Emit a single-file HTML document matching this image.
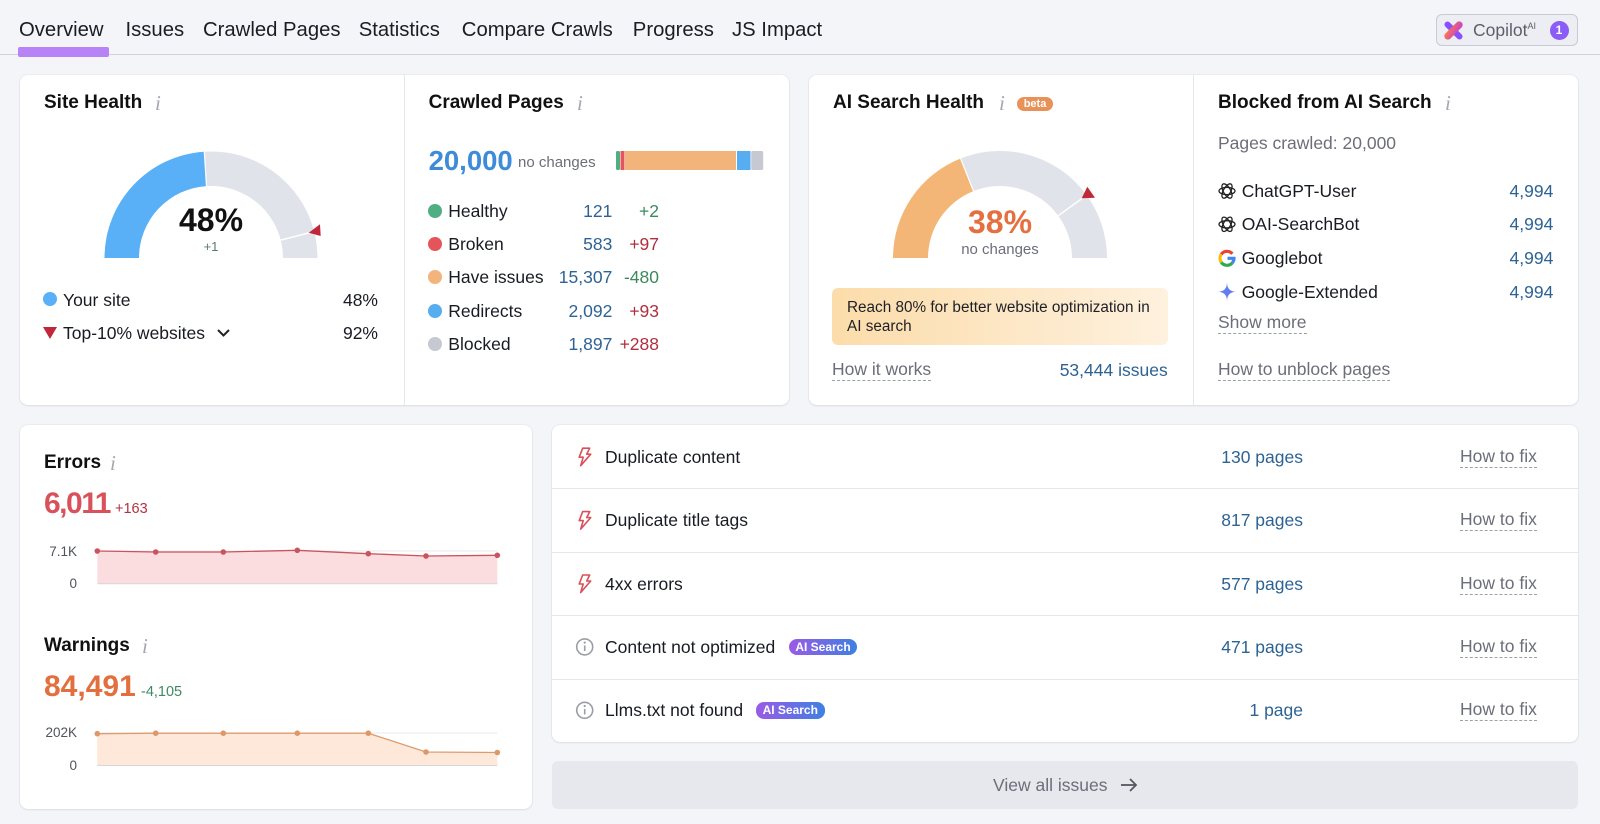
<!DOCTYPE html>
<html><head><meta charset="utf-8">
<style>
*{margin:0;padding:0;box-sizing:border-box}
html,body{width:1600px;height:824px;overflow:hidden;background:#f4f5f9;font-family:"Liberation Sans",Arial,sans-serif;color:#191b23}
body{position:relative}
.a{position:absolute;white-space:nowrap}
.card{position:absolute;background:#fff;border-radius:8px;box-shadow:0 1px 2px rgba(30,35,50,.08),0 0 0 1px rgba(30,35,50,.035)}
.tab{position:absolute;top:18px;line-height:24px;font-size:20.3px;color:#1b1d24;white-space:nowrap}
.h{position:absolute;font-size:19px;font-weight:bold;line-height:24px;color:#111;white-space:nowrap}
.ii{position:absolute;font-family:"Liberation Serif",serif;font-style:italic;font-size:21px;color:#a4a7af;line-height:24px}
.b{position:absolute;font-size:17.5px;line-height:22px;white-space:nowrap}
.g{color:#6c6e79}
.blue{color:#2d6394}
.red{color:#b22e3d}
.grn{color:#3b8a5e}
.dash{border-bottom:1.3px dashed #9ea1aa;line-height:21px}
.r{text-align:right}
.dot{position:absolute;width:14px;height:14px;border-radius:50%}
.ax{position:absolute;font-size:13.5px;line-height:18px;color:#50535c;text-align:right;white-space:nowrap}
.badge{position:absolute;height:16.5px;border-radius:8px;background:linear-gradient(90deg,#9a5ae6,#3f80e2);color:#fff;font-size:12px;font-weight:bold;line-height:16.5px;text-align:center}
</style></head><body>

<!-- top nav -->
<div class="a" style="left:0;top:54px;width:1600px;height:1px;background:#cfd2d9"></div>
<div class="a" style="left:18px;top:47px;width:91px;height:10px;background:#b783f7;border-radius:2px"></div>
<div class="tab" style="left:19px">Overview</div>
<div class="tab" style="left:125.5px">Issues</div>
<div class="tab" style="left:203px">Crawled Pages</div>
<div class="tab" style="left:358.7px">Statistics</div>
<div class="tab" style="left:461.8px">Compare Crawls</div>
<div class="tab" style="left:632.8px">Progress</div>
<div class="tab" style="left:732px">JS Impact</div>

<div class="a" style="left:1436px;top:14px;width:142px;height:32px;border:1px solid #c8cbd3;border-radius:6px;background:#eceef3"></div>
<svg class="a" style="left:1444px;top:21px" width="19" height="19" viewBox="0 0 19 19">
<defs><linearGradient id="cg" x1="0" y1="0" x2="1" y2="1"><stop offset="0" stop-color="#ff7a45"/><stop offset="1" stop-color="#c13fd0"/></linearGradient></defs>
<rect x="-2" y="6.5" width="23" height="6" rx="3" fill="#8a4fff" transform="rotate(45 9.5 9.5)"/>
<rect x="-2" y="6" width="23" height="7" rx="3.5" fill="url(#cg)" transform="rotate(-45 9.5 9.5)"/>
</svg>
<div class="b" style="left:1473px;top:19px;color:#5c5f6a">Copilot<span style="font-size:9px;position:relative;top:-7px">AI</span></div>
<div class="a" style="left:1549.5px;top:20.5px;width:19px;height:19px;border-radius:50%;background:#8b5cf6;color:#fff;font-size:12px;font-weight:bold;line-height:19px;text-align:center">1</div>

<!-- cards -->
<div class="card" style="left:20px;top:75px;width:769px;height:330px"></div>
<div class="a" style="left:404px;top:75px;width:1px;height:330px;background:#e6e7eb"></div>
<div class="card" style="left:809px;top:75px;width:769px;height:330px"></div>
<div class="a" style="left:1193px;top:75px;width:1px;height:330px;background:#e6e7eb"></div>
<div class="card" style="left:20px;top:425px;width:512px;height:384px"></div>
<div class="card" style="left:552px;top:425px;width:1026px;height:317px"></div>
<div class="a" style="left:552px;top:488.4px;width:1026px;height:1px;background:#e6e7eb"></div>
<div class="a" style="left:552px;top:551.8px;width:1026px;height:1px;background:#e6e7eb"></div>
<div class="a" style="left:552px;top:615.2px;width:1026px;height:1px;background:#e6e7eb"></div>
<div class="a" style="left:552px;top:678.6px;width:1026px;height:1px;background:#e6e7eb"></div>
<div class="a" style="left:552px;top:761px;width:1026px;height:48px;border-radius:6px;background:#e6e8ee"></div>

<!-- graphics -->
<svg class="a" style="left:0;top:0" width="1600" height="824" viewBox="0 0 1600 824">
<defs>
<linearGradient id="gem" x1="0" y1="0" x2="1" y2="1"><stop offset="0" stop-color="#4d8ff0"/><stop offset="1" stop-color="#7a6cf0"/></linearGradient>
</defs>
<!-- site health gauge -->
<path d="M104.5 258 A106.5 106.5 0 0 1 204.3 151.7 L206.5 186.1 A72 72 0 0 0 139 258 Z" fill="#5ab0f6"/>
<path d="M204.3 151.7 A106.5 106.5 0 0 1 317.5 258 L283 258 A72 72 0 0 0 206.5 186.1 Z" fill="#e1e3ea"/>
<line x1="204.3" y1="151.7" x2="206.5" y2="186.1" stroke="#fff" stroke-width="1.2"/>
<line x1="314.2" y1="231.5" x2="280.7" y2="240.1" stroke="#fff" stroke-width="1.5"/>
<polygon points="308.7,232.7 320,224.3 320.7,236" fill="#c0283a"/>
<!-- ai gauge -->
<path d="M893 258 A107 107 0 0 1 960.6 158.5 L973.5 191.1 A72 72 0 0 0 928 258 Z" fill="#f3b676"/>
<path d="M960.6 158.5 A107 107 0 0 1 1107 258 L1072 258 A72 72 0 0 0 973.5 191.1 Z" fill="#e1e3ea"/>
<line x1="960.6" y1="158.5" x2="973.5" y2="191.1" stroke="#fff" stroke-width="1.2"/>
<line x1="1086.6" y1="195.1" x2="1058.2" y2="215.7" stroke="#fff" stroke-width="1.5"/>
<polygon points="1081.7,198.3 1087.3,186.7 1095,197.7" fill="#c0283a"/>
<!-- crawled bar -->
<rect x="616" y="151" width="4" height="19" rx="1.5" fill="#4fae82"/>
<rect x="620.5" y="151" width="4" height="19" fill="#e5545a"/>
<rect x="625" y="151" width="111" height="19" fill="#f2b47a"/>
<rect x="737" y="151" width="13.5" height="19" fill="#56aef0"/>
<rect x="751.2" y="151" width="12" height="19" rx="1.5" fill="#c6c9d1"/>
<!-- errors chart -->
<line x1="97.3" y1="551" x2="497.3" y2="551" stroke="#e9eaee"/>
<polygon points="97.3,551 155.7,552 223.3,552 297.3,550.3 368.3,553.7 426,556 497.3,555.3 497.3,583.7 97.3,583.7" fill="#fbdde0"/>
<line x1="97.3" y1="583.7" x2="497.3" y2="583.7" stroke="#d5d7dc"/>
<polyline points="97.3,551 155.7,552 223.3,552 297.3,550.3 368.3,553.7 426,556 497.3,555.3" fill="none" stroke="#c9545d" stroke-width="1.3"/>
<g fill="#c9545d"><circle cx="97.3" cy="551" r="2.8"/><circle cx="155.7" cy="552" r="2.8"/><circle cx="223.3" cy="552" r="2.8"/><circle cx="297.3" cy="550.3" r="2.8"/><circle cx="368.3" cy="553.7" r="2.8"/><circle cx="426" cy="556" r="2.8"/><circle cx="497.3" cy="555.3" r="2.8"/></g>
<!-- warnings chart -->
<line x1="97.3" y1="733" x2="497.3" y2="733" stroke="#e9eaee"/>
<polygon points="97.3,733.7 155.7,733.2 223.3,733.2 297.3,733.2 368.3,733.2 426,752 497.3,752.5 497.3,765.5 97.3,765.5" fill="#fde8da"/>
<line x1="97.3" y1="765.5" x2="497.3" y2="765.5" stroke="#d5d7dc"/>
<polyline points="97.3,733.7 155.7,733.2 223.3,733.2 297.3,733.2 368.3,733.2 426,752 497.3,752.5" fill="none" stroke="#dd9c6e" stroke-width="1.3"/>
<g fill="#dc9866"><circle cx="97.3" cy="733.7" r="2.8"/><circle cx="155.7" cy="733.2" r="2.8"/><circle cx="223.3" cy="733.2" r="2.8"/><circle cx="297.3" cy="733.2" r="2.8"/><circle cx="368.3" cy="733.2" r="2.8"/><circle cx="426" cy="752" r="2.8"/><circle cx="497.3" cy="752.5" r="2.8"/></g>
<!-- legend marks -->
<polygon points="43,327 57,327 50,339" fill="#c0283a"/>
<polyline points="218,330 223.5,335.5 229,330" fill="none" stroke="#222" stroke-width="2"/>
<!-- blocked icons -->
<g transform="translate(1227,191)" fill="none" stroke="#222" stroke-width="1.3"><ellipse rx="8" ry="3.6"/><ellipse rx="8" ry="3.6" transform="rotate(60)"/><ellipse rx="8" ry="3.6" transform="rotate(120)"/></g>
<g transform="translate(1227,224.3)" fill="none" stroke="#222" stroke-width="1.3"><ellipse rx="8" ry="3.6"/><ellipse rx="8" ry="3.6" transform="rotate(60)"/><ellipse rx="8" ry="3.6" transform="rotate(120)"/></g>
<g transform="translate(1227,258.3)" fill="none" stroke-width="3.2">
<path d="M5.36 -4.5 A7 7 0 0 0 -5.73 -4.01" stroke="#ea4335"/>
<path d="M-5.73 -4.01 A7 7 0 0 0 -5.73 4.01" stroke="#fbbc05"/>
<path d="M-5.73 4.01 A7 7 0 0 0 5.36 4.5" stroke="#34a853"/>
<path d="M5.36 4.5 A7 7 0 0 0 7 0 L0.5 0" stroke="#4285f4"/>
</g>
<path transform="translate(1227,291.7)" d="M0 -9.5 Q0 0 9.5 0 Q0 0 0 9.5 Q0 0 -9.5 0 Q0 0 0 -9.5 Z" fill="url(#gem)"/>
<!-- issue icons -->
<g fill="none" stroke="#d9505a" stroke-width="1.6" stroke-linejoin="round">
<path transform="translate(584.7,456.7)" d="M-2 -8.5 L5 -8.5 L2 -2.5 L6 -2.5 L-4 9 L-1.5 0.5 L-5.5 0.5 Z"/>
<path transform="translate(584.7,520.1)" d="M-2 -8.5 L5 -8.5 L2 -2.5 L6 -2.5 L-4 9 L-1.5 0.5 L-5.5 0.5 Z"/>
<path transform="translate(584.7,583.5)" d="M-2 -8.5 L5 -8.5 L2 -2.5 L6 -2.5 L-4 9 L-1.5 0.5 L-5.5 0.5 Z"/>
</g>
<g fill="none" stroke="#9b9ea6" stroke-width="1.6">
<circle cx="584.7" cy="646.9" r="8"/><line x1="584.7" y1="645.5" x2="584.7" y2="651"/>
<circle cx="584.7" cy="710.3" r="8"/><line x1="584.7" y1="708.9" x2="584.7" y2="714.4"/>
</g>
<g fill="#9b9ea6"><circle cx="584.7" cy="642.6" r="1.1"/><circle cx="584.7" cy="706" r="1.1"/></g>
<!-- view all arrow -->
<g fill="none" stroke="#555861" stroke-width="1.8"><line x1="1121" y1="785" x2="1136" y2="785"/><polyline points="1130,779 1136,785 1130,791"/></g>
</svg>

<!-- Site Health -->
<div class="h" style="left:44px;top:91px">Site Health</div>
<div class="ii" style="left:155px;top:91px">i</div>
<div class="a" style="left:111px;top:202px;width:200px;text-align:center;font-size:32px;font-weight:bold;line-height:36px;color:#111">48%</div>
<div class="a" style="left:161px;top:239px;width:100px;text-align:center;font-size:13px;line-height:16px;color:#5f7a6a">+1</div>
<div class="dot" style="left:43px;top:292.3px;background:#5ab0f6"></div>
<div class="b" style="left:63px;top:288.5px">Your site</div>
<div class="b r" style="right:1222px;top:288.5px">48%</div>
<div class="b" style="left:63px;top:322px">Top-10% websites</div>
<div class="b r" style="right:1222px;top:322px">92%</div>

<!-- Crawled Pages -->
<div class="h" style="left:428.6px;top:91px">Crawled Pages</div>
<div class="ii" style="left:577px;top:91px">i</div>
<div class="a" style="left:428.6px;top:144.5px;font-size:27.5px;font-weight:bold;line-height:32px;color:#3d8bd9">20,000</div>
<div class="a g" style="left:518px;top:153px;font-size:15px;line-height:20px">no changes</div>
<div class="dot" style="left:428.3px;top:203.7px;background:#4fae82"></div>
<div class="dot" style="left:428.3px;top:237px;background:#e5545a"></div>
<div class="dot" style="left:428.3px;top:270.3px;background:#f2b47a"></div>
<div class="dot" style="left:428.3px;top:303.7px;background:#56aef0"></div>
<div class="dot" style="left:428.3px;top:337px;background:#c6c9d1"></div>
<div class="b" style="left:448.3px;top:199.7px">Healthy</div>
<div class="b" style="left:448.3px;top:233px">Broken</div>
<div class="b" style="left:448.3px;top:266.3px">Have issues</div>
<div class="b" style="left:448.3px;top:299.7px">Redirects</div>
<div class="b" style="left:448.3px;top:333px">Blocked</div>
<div class="b blue r" style="right:987.7px;top:199.7px">121</div>
<div class="b blue r" style="right:987.7px;top:233px">583</div>
<div class="b blue r" style="right:987.7px;top:266.3px">15,307</div>
<div class="b blue r" style="right:987.7px;top:299.7px">2,092</div>
<div class="b blue r" style="right:987.7px;top:333px">1,897</div>
<div class="b grn r" style="right:941px;top:199.7px">+2</div>
<div class="b red r" style="right:941px;top:233px">+97</div>
<div class="b grn r" style="right:941px;top:266.3px">-480</div>
<div class="b red r" style="right:941px;top:299.7px">+93</div>
<div class="b red r" style="right:941px;top:333px">+288</div>

<!-- AI Search Health -->
<div class="h" style="left:833px;top:91px">AI Search Health</div>
<div class="ii" style="left:999px;top:91px">i</div>
<div class="a" style="left:1017px;top:97px;width:36px;height:14px;border-radius:7px;background:#e8925a;color:#fff;font-size:11px;font-weight:bold;line-height:14px;text-align:center">beta</div>
<div class="a" style="left:900px;top:203.5px;width:200px;text-align:center;font-size:32px;font-weight:bold;line-height:36px;color:#e4703f">38%</div>
<div class="a g" style="left:900px;top:239.5px;width:200px;text-align:center;font-size:15px;line-height:20px">no changes</div>
<div class="a" style="left:832px;top:288px;width:336px;height:57px;border-radius:6px;background:linear-gradient(90deg,#fcdcaa,#fef1de)"></div>
<div class="a" style="left:847px;top:297.5px;font-size:15.3px;line-height:19px;color:#1d1f26;white-space:normal;width:315px">Reach 80% for better website optimization in AI search</div>
<div class="b g dash" style="left:832px;top:359px">How it works</div>
<div class="b blue r" style="right:432.3px;top:359px">53,444 issues</div>

<!-- Blocked from AI Search -->
<div class="h" style="left:1218px;top:91px">Blocked from AI Search</div>
<div class="ii" style="left:1445px;top:91px">i</div>
<div class="b g" style="left:1218px;top:132.3px">Pages crawled: 20,000</div>
<div class="b" style="left:1241.7px;top:180px">ChatGPT-User</div>
<div class="b" style="left:1241.7px;top:213.3px">OAI-SearchBot</div>
<div class="b" style="left:1241.7px;top:247.3px">Googlebot</div>
<div class="b" style="left:1241.7px;top:280.7px">Google-Extended</div>
<div class="b blue r" style="right:46.7px;top:180px">4,994</div>
<div class="b blue r" style="right:46.7px;top:213.3px">4,994</div>
<div class="b blue r" style="right:46.7px;top:247.3px">4,994</div>
<div class="b blue r" style="right:46.7px;top:280.7px">4,994</div>
<div class="b g dash" style="left:1218px;top:311.7px">Show more</div>
<div class="b g dash" style="left:1218px;top:359px">How to unblock pages</div>

<!-- Errors / Warnings -->
<div class="h" style="left:44px;top:451.3px">Errors</div>
<div class="ii" style="left:110px;top:451.3px">i</div>
<div class="a" style="left:44px;top:487px;font-size:30px;font-weight:bold;line-height:34px;letter-spacing:-1.5px;color:#d9525b">6,011</div>
<div class="a" style="left:115px;top:500px;font-size:14.5px;line-height:18px;color:#b0323f">+163</div>
<div class="ax" style="right:1523px;top:543px">7.1K</div>
<div class="ax" style="right:1523px;top:574.5px">0</div>
<div class="h" style="left:44px;top:634px">Warnings</div>
<div class="ii" style="left:142px;top:634px">i</div>
<div class="a" style="left:44px;top:670px;font-size:30px;font-weight:bold;line-height:34px;color:#e2703e">84,491</div>
<div class="a" style="left:141px;top:683px;font-size:14.5px;line-height:18px;color:#3f8a64">-4,105</div>
<div class="ax" style="right:1523px;top:724px">202K</div>
<div class="ax" style="right:1523px;top:756.5px">0</div>

<!-- Issues list -->
<div class="b" style="left:605px;top:445.7px">Duplicate content</div>
<div class="b" style="left:605px;top:509.1px">Duplicate title tags</div>
<div class="b" style="left:605px;top:572.5px">4xx errors</div>
<div class="b" style="left:605px;top:635.9px">Content not optimized</div>
<div class="b" style="left:605px;top:699.3px">Llms.txt not found</div>
<div class="badge" style="left:789px;top:638.6px;width:68px">AI Search</div>
<div class="badge" style="left:756px;top:702px;width:68.5px">AI Search</div>
<div class="b blue r" style="right:297px;top:445.7px">130 pages</div>
<div class="b blue r" style="right:297px;top:509.1px">817 pages</div>
<div class="b blue r" style="right:297px;top:572.5px">577 pages</div>
<div class="b blue r" style="right:297px;top:635.9px">471 pages</div>
<div class="b blue r" style="right:297px;top:699.3px">1 page</div>
<div class="b g dash" style="left:1460px;top:445.7px">How to fix</div>
<div class="b g dash" style="left:1460px;top:509.1px">How to fix</div>
<div class="b g dash" style="left:1460px;top:572.5px">How to fix</div>
<div class="b g dash" style="left:1460px;top:635.9px">How to fix</div>
<div class="b g dash" style="left:1460px;top:699.3px">How to fix</div>

<div class="b g" style="left:993px;top:774px">View all issues</div>

</body></html>
